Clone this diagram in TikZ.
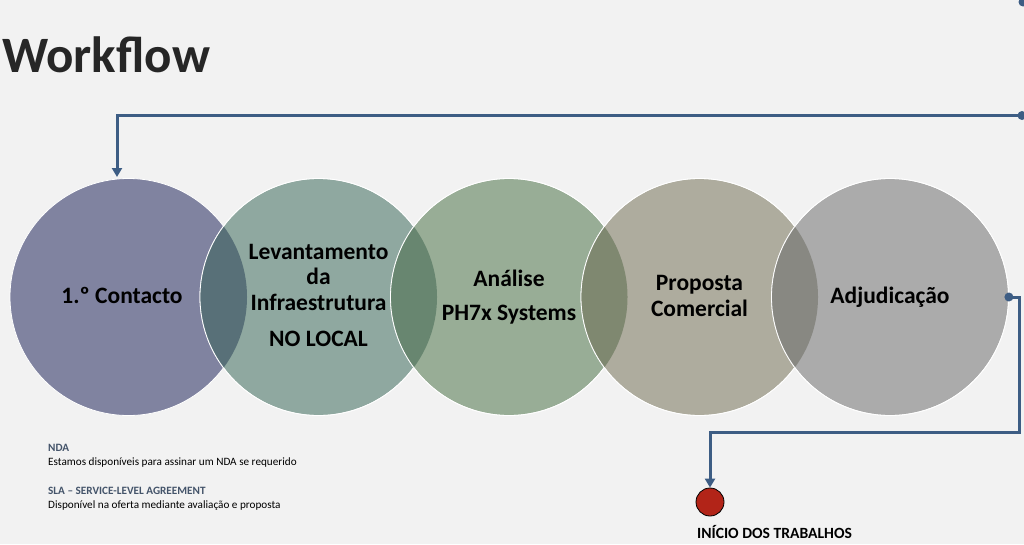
\documentclass[tikz,border=0pt]{standalone}
\usepackage{fontspec}
\setmainfont{Carlito}
\usetikzlibrary{arrows.meta}
\definecolor{bg}{HTML}{F2F2F2}
\definecolor{titlecol}{HTML}{262626}
\definecolor{lineblue}{HTML}{3D5D84}
\definecolor{cA}{HTML}{8083A0}
\definecolor{cB}{HTML}{8FA8A0}
\definecolor{cC}{HTML}{98AD96}
\definecolor{cD}{HTML}{AEAC9E}
\definecolor{cE}{HTML}{ABABAB}
\definecolor{lAB}{HTML}{587078}
\definecolor{lBC}{HTML}{688670}
\definecolor{lCD}{HTML}{7F8870}
\definecolor{lDE}{HTML}{888882}
\definecolor{redcol}{HTML}{B22418}
\definecolor{notehead}{HTML}{44546A}
\tikzset{
  stage/.style={circle, minimum size=237pt, inner sep=0pt, draw=white, line width=0.8pt},
  stagetext/.style={anchor=base, align=center, inner sep=0pt, font=\fontsize{23.5}{25.5}\selectfont\bfseries, text=black},
  conn/.style={draw=lineblue, line width=3pt},
  tip/.style={-{Triangle[width=10pt,length=9pt]}},
  note/.style={anchor=base west, inner sep=0pt, font=\fontsize{11.2}{13}\selectfont},
  notehd/.style={note, text=notehead, font=\fontsize{11.2}{13}\selectfont\bfseries},
}
\newcommand{\lens}[3]{\begin{scope}\clip (#1) circle (118.5pt);\fill[#3] (#2) circle (118.5pt);\end{scope}}
\begin{document}
\begin{tikzpicture}[x=1pt,y=-1pt]
\useasboundingbox[fill=bg] (0,0) rectangle (1024,544);
\node[anchor=base west, inner sep=0pt, font=\fontsize{51}{51}\selectfont\bfseries, text=titlecol] (title) at (2,72) {Workflow};

\node[stage, fill=cA] (c1) at (128.5,297) {};
\node[stage, fill=cB] (c2) at (318.5,297) {};
\lens{c1.center}{c2.center}{lAB}
\draw[white, line width=0.8pt] (c2.center) circle (118.5pt);
\node[stage, fill=cC] (c3) at (509,297) {};
\lens{c2.center}{c3.center}{lBC}
\draw[white, line width=0.8pt] (c3.center) circle (118.5pt);
\node[stage, fill=cD] (c4) at (699.5,297) {};
\lens{c3.center}{c4.center}{lCD}
\draw[white, line width=0.8pt] (c4.center) circle (118.5pt);
\node[stage, fill=cE] (c5) at (890,297) {};
\lens{c4.center}{c5.center}{lDE}
\draw[white, line width=0.8pt] (c5.center) circle (118.5pt);

\node[stagetext] (t1) at (122,303) {1.º Contacto};
\node[stagetext] (t2) at (318.5,310) {Levantamento\\da\\Infraestrutura};
\node[stagetext] (t2b) at (318.5,346) {NO LOCAL};
\node[stagetext] (t3) at (509,286) {Análise};
\node[stagetext] (t3b) at (509,320) {PH7x Systems};
\node[stagetext] (t4) at (699.5,316) {Proposta\\Comercial};
\node[stagetext] (t5) at (890,303) {Adjudicação};

% top connector
\coordinate (topdot) at (1022,115.5);
\coordinate (c1in) at (117,177);
\fill[lineblue] (topdot) circle (4.5pt);
\draw[conn, tip] (topdot) -| (c1in);
\fill[lineblue] (1023,2) circle (4.5pt);

% bottom connector
\node[circle, minimum size=28pt, inner sep=0pt, fill=redcol, draw=black, line width=0.8pt] (start) at (710,502) {};
\coordinate (turn) at (710,432);
\fill[lineblue] (c5.east) circle (4.5pt);
\draw[conn, tip] (c5.east) -- ++(11,0) |- (turn) -- (start.north);
\node[anchor=base west, inner sep=0pt, font=\fontsize{15.6}{18}\selectfont\bfseries] (startlbl) at (697,538) {INÍCIO DOS TRABALHOS};

% notes
\node[notehd] (n1) at (48,451) {NDA};
\node[note] (n2) at (48,465) {Estamos disponíveis para assinar um NDA se requerido};
\node[notehd] (n3) at (48,494) {SLA – SERVICE-LEVEL AGREEMENT};
\node[note] (n4) at (48,508) {Disponível na oferta mediante avaliação e proposta};
\end{tikzpicture}
\end{document}
